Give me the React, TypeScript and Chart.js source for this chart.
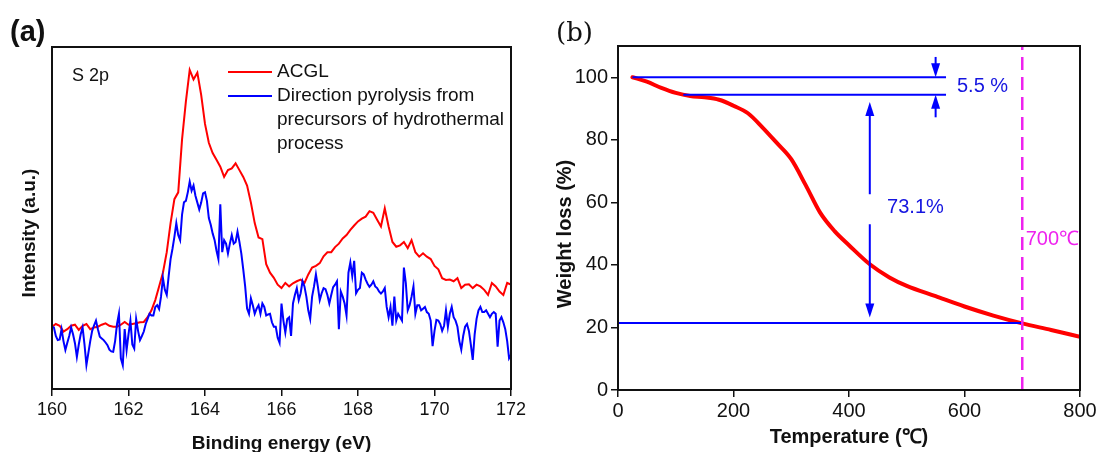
import React, { useEffect, useRef } from "react";
import { Chart, registerables } from "chart.js";

Chart.register(...registerables);

const SANS = "'Liberation Sans', Arial, sans-serif";
const SERIF = "'DejaVu Serif', 'Liberation Serif', serif";

// ---------- Panel (a): XPS S 2p ----------
const XPS_MIN = 160;
const XPS_MAX = 172;
const XPS_TICK_STEP = 2;
const XPS_LABELS = ["ACGL", "Direction pyrolysis from", "precursors of hydrothermal", "process"];

// ACGL, sampled every 0.1 eV from 160.0
const ACGL_START = 160;
const ACGL_STEP = 0.1;
const ACGL = [
  18.2, 19, 18.5, 16.8, 17.5, 18.5, 18.8, 17.3, 18.5, 19,
  17.5, 18, 18.2, 18.8, 19.2, 18.5, 18.2, 18.2, 18.8, 19.6,
  18.8, 19, 19.2, 19.5, 19.6, 21, 23, 26, 30, 34,
  40, 48.5, 55.5, 57.5, 73, 84, 93.3, 90.5, 92.5, 86,
  77.5, 72, 69, 67, 65, 62, 64, 64.5, 66, 64,
  62, 59.5, 54.5, 48.5, 44.3, 43.8, 36.5, 34, 32.5, 30.5,
  29.5, 31, 30, 30.9, 31.5, 32, 31, 33.5, 35.5, 36,
  36.8, 38.8, 40, 40, 41.5, 42.5, 44, 45, 46.5, 47.8,
  49, 49.8, 50.4, 52, 51.5, 49.5, 47.5, 52.8, 47.5, 43,
  41.6, 42, 43, 41.2, 43.5, 40, 38.7, 39.7, 38.7, 38,
  36, 35, 32.4, 31.9, 32, 31.5, 32.4, 29.5, 30.5, 30.6,
  29.5, 30.5, 30, 29, 27.5, 31, 30, 28.5, 27.5, 31,
  30.5,
];

// Direct pyrolysis sample, sampled every 0.05 eV from 160.00
const DIRECT_START = 160;
const DIRECT_STEP = 0.05;
const DIRECT = [
  18.2, 18, 15.5, 14.3, 14.5, 17.5, 14, 11.4, 13.5, 15.5, 18, 16, 13.4, 9.4, 13, 16, 18, 13, 7, 10.5,
  14, 17, 18.6, 20, 17.5, 15.3, 14.8, 14.3, 13.6, 12.8, 11.5, 11, 10.9, 14, 19, 22, 9, 7, 17.5, 11.4,
  16, 20, 13, 11.8, 20.5, 17, 14.3, 15.5, 16.8, 19, 20.5, 22, 21.5, 21.5, 24, 24.5, 23.4, 27, 32.5, 29,
  27.5, 33, 38, 41, 44.5, 48.5, 45, 43.5, 51, 54.6, 55, 57.5, 60.6, 58, 59.5, 56.5, 54.5, 52.5, 54.5, 57.2,
  57.5, 55, 50, 48, 45.5, 43.6, 40.5, 38, 54, 40, 43.5, 42.5, 39.6, 42.5, 45, 42.5, 43, 46, 43, 39.6,
  35, 30, 23.5, 22, 26.5, 24.5, 22, 23.5, 24.5, 22, 25, 24, 21.5, 21.8, 22, 19.5, 18.2, 18.2, 15, 13.5,
  25, 20, 16.5, 20.5, 21, 15.5, 25, 27.5, 29.5, 26, 28, 31.5, 30, 27, 23, 20.5, 27, 30, 33.5, 30,
  26, 28, 29.5, 29.2, 27.5, 25, 27.5, 29.8, 30.5, 31.5, 17.5, 28.5, 27, 25, 21.5, 34, 37, 33, 37.5, 28,
  29, 29.5, 34, 33.5, 32, 30.8, 29.9, 30.5, 31.5, 30, 29.5, 28.5, 27.9, 28.5, 29.5, 24, 21, 24, 18.5, 27,
  20, 22, 21, 20, 35.5, 31, 23, 24.5, 27, 30, 22, 24.5, 24.5, 23, 23.5, 24, 22.5, 22, 20, 12.5,
  17, 20.2, 20, 19, 17, 18.5, 23, 18.2, 22, 24, 21, 20, 18.2, 14, 11.5, 15.5, 18.2, 19, 17, 13,
  8.5, 16, 20.5, 23, 24, 22.5, 22.5, 23, 22, 21, 22, 22.5, 22, 12.4, 20, 21, 19.5, 17.5, 14, 9,
  10,
];

// ---------- Panel (b): TGA ----------
const TEMP_MIN = 0;
const TEMP_MAX = 800;
const TEMP_STEP = 200;
const WEIGHT_MIN = 0;
const WEIGHT_MAX = 110;
const WEIGHT_TICKS = [0, 20, 40, 60, 80, 100];

const TEMP = [25, 50, 75, 100, 125, 150, 175, 200, 225, 250, 275, 300, 325, 350, 375, 400, 436, 470, 500, 550, 600, 650, 700, 750, 800];
const WEIGHT = [100, 98.6, 96.6, 95.0, 94.0, 93.6, 92.8, 90.9, 88.5, 84, 79, 73.8, 65.5, 56.7, 50.8, 46.3, 40.2, 36, 33.3, 30, 26.7, 23.8, 21.3, 19.2, 17.0];

// reference levels (weight %) and their temperature spans
const LEVEL_START = 100;
const LEVEL_STAGE1 = 94.4;
const LEVEL_FINAL = 21.4;
const LEVEL_START_SPAN = [25, 568];
const LEVEL_STAGE1_SPAN = [113, 568];
const LEVEL_FINAL_SPAN = [0, 700];
const MARK_TEMP = 700;
const LOSS1_TEXT = "5.5 %";
const LOSS2_TEXT = "73.1%";
const MARK_TEXT = "700℃";
// annotation anchors (temperature, weight)
const LOSS1_ARROW_T = 550;
const LOSS2_ARROW_T = 436;
const LOSS1_LABEL = [587, 97.1];
const LOSS2_LABEL = [466, 58.4];
const MARK_LABEL = [706, 48.2];
const LOSS2_GAP = [62.6, 53];

const BLUE = "#0000ff";
const RED = "#ff0000";
const MAGENTA = "#ee22ee";

function drawArrow(ctx: CanvasRenderingContext2D, x: number, yFrom: number, yTo: number, color: string) {
  const dir = Math.sign(yTo - yFrom);
  const headLen = 14;
  const halfW = 4.5;
  ctx.strokeStyle = color;
  ctx.fillStyle = color;
  ctx.lineWidth = 2;
  ctx.beginPath();
  ctx.moveTo(x, yFrom);
  ctx.lineTo(x, yTo - dir * headLen * 0.8);
  ctx.stroke();
  ctx.beginPath();
  ctx.moveTo(x, yTo);
  ctx.lineTo(x - halfW, yTo - dir * headLen);
  ctx.lineTo(x + halfW, yTo - dir * headLen);
  ctx.closePath();
  ctx.fill();
}

const panelAPlugin = {
  id: "panelA",
  afterDraw(chart: any) {
    const { ctx, chartArea: ca } = chart;
    ctx.save();
    ctx.strokeStyle = "#111";
    ctx.lineWidth = 2;
    ctx.strokeRect(ca.left, ca.top, ca.right - ca.left, ca.bottom - ca.top);
    ctx.fillStyle = "#111";
    ctx.textAlign = "left";
    ctx.textBaseline = "middle";
    ctx.font = `bold 29px ${SANS}`;
    ctx.fillText("(a)", 10, 33);
    ctx.font = `18px ${SANS}`;
    ctx.fillText("S 2p", 72, 76);
    // legend
    ctx.lineWidth = 2;
    ctx.strokeStyle = RED;
    ctx.beginPath();
    ctx.moveTo(228, 72);
    ctx.lineTo(272, 72);
    ctx.stroke();
    ctx.strokeStyle = BLUE;
    ctx.beginPath();
    ctx.moveTo(228, 96);
    ctx.lineTo(272, 96);
    ctx.stroke();
    ctx.font = `19px ${SANS}`;
    ctx.fillStyle = "#111";
    XPS_LABELS.forEach((t, i) => ctx.fillText(t, 277, 72 + i * 24));
    // axis titles
    ctx.font = `bold 19px ${SANS}`;
    ctx.textAlign = "center";
    ctx.fillText("Binding energy (eV)", (ca.left + ca.right) / 2, 444);
    ctx.save();
    ctx.translate(30, 233);
    ctx.rotate(-Math.PI / 2);
    ctx.fillText("Intensity (a.u.)", 0, 0);
    ctx.restore();
    ctx.restore();
  },
};

const panelBPlugin = {
  id: "panelB",
  afterDraw(chart: any) {
    const { ctx, chartArea: ca, scales } = chart;
    const xs = scales.x;
    const ys = scales.y;
    ctx.save();
    ctx.strokeStyle = "#111";
    ctx.lineWidth = 2;
    ctx.strokeRect(ca.left, ca.top, ca.right - ca.left, ca.bottom - ca.top);
    ctx.fillStyle = "#111";
    ctx.textBaseline = "middle";
    ctx.textAlign = "left";
    ctx.font = `26px ${SERIF}`;
    ctx.fillText("(b)", 7, 34);
    // arrows
    const x1 = xs.getPixelForValue(LOSS1_ARROW_T);
    drawArrow(ctx, x1, ys.getPixelForValue(106.5), ys.getPixelForValue(LEVEL_START), BLUE);
    drawArrow(ctx, x1, ys.getPixelForValue(87.2), ys.getPixelForValue(LEVEL_STAGE1), BLUE);
    const x2 = xs.getPixelForValue(LOSS2_ARROW_T);
    drawArrow(ctx, x2, ys.getPixelForValue(LOSS2_GAP[0]), ys.getPixelForValue(LEVEL_STAGE1 - 2.3), BLUE);
    drawArrow(ctx, x2, ys.getPixelForValue(LOSS2_GAP[1]), ys.getPixelForValue(LEVEL_FINAL + 1.8), BLUE);
    // texts
    ctx.font = `20px ${SANS}`;
    ctx.fillStyle = "#1515e0";
    ctx.fillText(LOSS1_TEXT, xs.getPixelForValue(LOSS1_LABEL[0]), ys.getPixelForValue(LOSS1_LABEL[1]));
    ctx.fillText(LOSS2_TEXT, xs.getPixelForValue(LOSS2_LABEL[0]), ys.getPixelForValue(LOSS2_LABEL[1]));
    ctx.fillStyle = MAGENTA;
    ctx.fillText(MARK_TEXT, xs.getPixelForValue(MARK_LABEL[0]), ys.getPixelForValue(MARK_LABEL[1]));
    // axis titles
    ctx.fillStyle = "#111";
    ctx.font = `bold 20px ${SANS}`;
    ctx.textAlign = "center";
    ctx.fillText("Temperature (℃)", (ca.left + ca.right) / 2, 437);
    ctx.save();
    ctx.translate(16, 234);
    ctx.rotate(-Math.PI / 2);
    ctx.fillText("Weight loss (%)", 0, 0);
    ctx.restore();
    ctx.restore();
  },
};

const tickGrid = { display: true, drawOnChartArea: false, drawTicks: true, tickLength: 7, color: "#111", lineWidth: 1.5 };

function makeXpsChart(canvas: HTMLCanvasElement) {
  const acgl = ACGL.map((v, i) => ({ x: +(ACGL_START + i * ACGL_STEP).toFixed(2), y: v }));
  const direct = DIRECT.map((v, i) => ({ x: +(DIRECT_START + i * DIRECT_STEP).toFixed(2), y: v }));
  return new Chart(canvas, {
    type: "line",
    data: {
      datasets: [
        { label: XPS_LABELS[1], data: direct, borderColor: BLUE, borderWidth: 2, pointRadius: 0, tension: 0 },
        { label: XPS_LABELS[0], data: acgl, borderColor: RED, borderWidth: 2, pointRadius: 0, tension: 0 },
      ],
    },
    options: {
      responsive: false,
      animation: false,
      devicePixelRatio: 1,
      events: [],
      layout: { padding: { left: 0, right: 38, top: 47, bottom: 0 } },
      plugins: { legend: { display: false }, tooltip: { enabled: false } },
      scales: {
        x: {
          type: "linear",
          min: XPS_MIN,
          max: XPS_MAX,
          ticks: { stepSize: XPS_TICK_STEP, color: "#111", font: { size: 18, family: SANS }, padding: 3 },
          grid: tickGrid,
          border: { display: false },
          afterFit: (s: any) => { s.height = 63; },
        },
        y: {
          type: "linear",
          min: 0,
          max: 100,
          ticks: { display: false },
          grid: { display: false },
          border: { display: false },
          afterFit: (s: any) => { s.width = 52; },
        },
      },
    },
    plugins: [panelAPlugin],
  } as any);
}

function makeTgaChart(canvas: HTMLCanvasElement) {
  const tga = TEMP.map((t, i) => ({ x: t, y: WEIGHT[i] }));
  const hLine = (span: number[], level: number) => [{ x: span[0], y: level }, { x: span[1], y: level }];
  return new Chart(canvas, {
    type: "line",
    data: {
      datasets: [
        { label: "700", data: [{ x: MARK_TEMP, y: WEIGHT_MIN }, { x: MARK_TEMP, y: WEIGHT_MAX }], borderColor: MAGENTA, borderWidth: 2.5, borderDash: [13, 7], pointRadius: 0 },
        { label: "start", data: hLine(LEVEL_START_SPAN, LEVEL_START), borderColor: BLUE, borderWidth: 2, pointRadius: 0 },
        { label: "stage1", data: hLine(LEVEL_STAGE1_SPAN, LEVEL_STAGE1), borderColor: BLUE, borderWidth: 2, pointRadius: 0 },
        { label: "final", data: hLine(LEVEL_FINAL_SPAN, LEVEL_FINAL), borderColor: BLUE, borderWidth: 2, pointRadius: 0 },
        { label: "TGA", data: tga, borderColor: RED, borderWidth: 4, pointRadius: 0, cubicInterpolationMode: "monotone", borderCapStyle: "round" },
      ],
    },
    options: {
      responsive: false,
      animation: false,
      devicePixelRatio: 1,
      events: [],
      layout: { padding: { left: 0, right: 19, top: 46, bottom: 0 } },
      plugins: { legend: { display: false }, tooltip: { enabled: false } },
      scales: {
        x: {
          type: "linear",
          min: TEMP_MIN,
          max: TEMP_MAX,
          ticks: { stepSize: TEMP_STEP, color: "#111", font: { size: 20, family: SANS }, padding: 2 },
          grid: tickGrid,
          border: { display: false },
          afterFit: (s: any) => { s.height = 62; },
        },
        y: {
          type: "linear",
          min: WEIGHT_MIN,
          max: WEIGHT_MAX,
          afterBuildTicks: (s: any) => { s.ticks = WEIGHT_TICKS.map((v) => ({ value: v })); },
          ticks: { color: "#111", font: { size: 20, family: SANS }, padding: 3 },
          grid: tickGrid,
          border: { display: false },
          afterFit: (s: any) => { s.width = 69; },
        },
      },
    },
    plugins: [panelBPlugin],
  } as any);
}

export default function App() {
  const refA = useRef<HTMLCanvasElement>(null);
  const refB = useRef<HTMLCanvasElement>(null);
  useEffect(() => {
    const a = makeXpsChart(refA.current!);
    const b = makeTgaChart(refB.current!);
    return () => {
      a.destroy();
      b.destroy();
    };
  }, []);
  return (
    <div style={{ position: "fixed", left: 0, top: 0, width: 1099, height: 452, background: "#fff", overflow: "hidden" }}>
      <canvas ref={refA} width={549} height={452} style={{ position: "absolute", left: 0, top: 0 }} />
      <canvas ref={refB} width={550} height={452} style={{ position: "absolute", left: 549, top: 0 }} />
    </div>
  );
}
